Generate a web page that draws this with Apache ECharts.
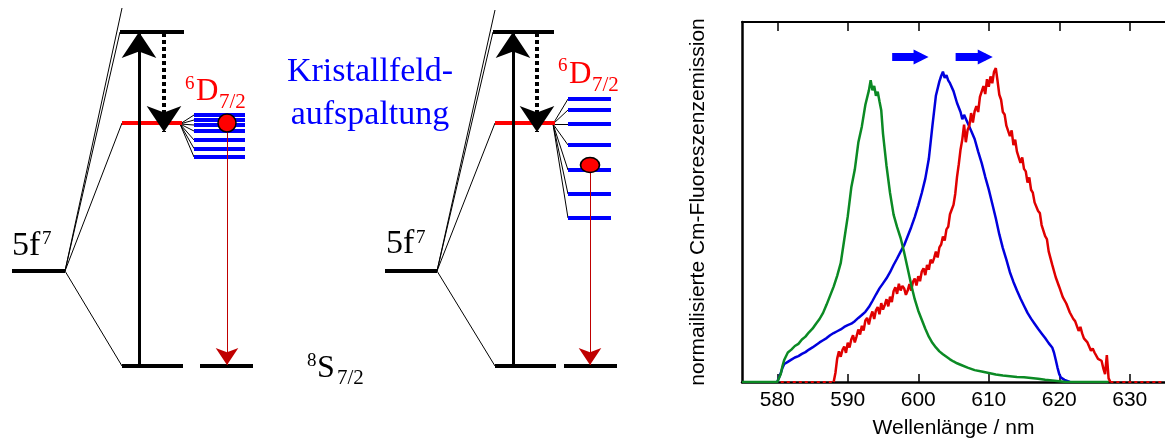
<!DOCTYPE html>
<html>
<head>
<meta charset="utf-8">
<title>Cm-Fluoreszenz</title>
<script src="https://cdn.jsdelivr.net/npm/echarts@6/dist/echarts.min.js"></script>
<style>
  html, body { margin: 0; padding: 0; background: #fff; }
  #chart { width: 1165px; height: 444px; }
</style>
</head>
<body>
<div id="chart"></div>
<script>
// ---------------- spectra (nm, normalised intensity 0..100) ----------------
var tickNm = [580, 590, 600, 610, 620, 630];

var greenNm = [575, 580, 580.25, 580.5, 580.75, 581, 581.5, 582, 582.5, 583, 583.5, 584, 584.5, 585, 585.5,
  586, 586.5, 587, 587.5, 588, 588.5, 589, 589.5, 590, 590.5, 591, 591.5, 592, 592.5, 593, 593.25, 593.5,
  593.75, 594, 594.25, 594.5, 594.75, 595, 595.25, 595.5, 596, 596.5, 597, 597.5, 598, 598.5, 599, 599.5,
  600, 600.5, 601, 601.5, 602, 602.5, 603, 603.5, 604, 604.5, 605, 605.5, 606, 607, 608, 609, 610, 611,
  612, 613, 614, 615, 616, 617, 618, 619, 620, 621, 627];
var greenVal = [0, 0, 0.5, 2.2, 4.5, 6.2, 8.2, 9.0, 10.0, 10.6, 11.8, 12.6, 13.8, 14.8, 16.2,
  17.5, 19.2, 21.5, 24.0, 26.5, 29.5, 33.0, 39.5, 46.0, 54.0, 59.0, 66.5, 71.0, 77.0, 81.0, 83.8, 81.0,
  82.2, 79.5, 80.6, 78.0, 75.5, 69.0, 64.5, 60.0, 52.5, 46.5, 43.0, 40.0, 36.0, 31.5, 27.0, 23.0,
  19.8, 17.3, 14.8, 12.6, 10.9, 9.6, 8.5, 7.7, 7.0, 6.3, 5.7, 5.2, 4.8, 4.0, 3.3, 2.9, 2.5, 2.1,
  1.8, 1.6, 1.4, 1.3, 1.1, 0.9, 0.6, 0.4, 0.2, 0, 0];

var blueNm = [580, 580.25, 580.5, 580.75, 581, 581.5, 582, 582.5, 583, 583.5, 584, 584.5, 585, 585.5, 586,
  586.5, 587, 587.5, 588, 588.5, 589, 589.5, 590, 590.5, 591, 591.5, 592, 592.5, 593, 593.5, 594, 594.5,
  595, 595.5, 596, 596.5, 597, 597.5, 598, 598.5, 599, 599.5, 600, 600.5, 601, 601.5, 602, 602.5, 603,
  603.25, 603.5, 603.75, 604, 604.25, 604.5, 605, 605.5, 606, 606.25, 606.5, 607, 607.5, 608, 608.5, 609,
  609.5, 610, 610.5, 611, 611.5, 612, 612.5, 613, 613.5, 614, 614.5, 615, 615.5, 616, 616.5, 617, 617.5,
  618, 618.5, 619, 619.25, 619.5, 619.75, 620, 620.25, 620.5, 620.75, 621, 621.5];
var blueVal = [0, 0.5, 2.5, 4.0, 5.0, 5.6, 6.2, 6.8, 7.2, 7.8, 8.3, 9.0, 9.6, 10.3, 11.0,
  11.6, 12.2, 13.0, 13.6, 14.1, 14.6, 15.3, 15.8, 16.2, 16.9, 17.8, 18.6, 19.5, 20.8, 22.5, 24.3, 26.0,
  27.4, 28.8, 30.5, 32.5, 34.3, 36.2, 38.0, 40.5, 43.0, 45.8, 49.0, 52.5, 56.5, 62.0, 71.0, 79.5, 83.5,
  85.0, 86.2, 84.5, 85.2, 83.8, 83.0, 80.8, 77.5, 75.0, 73.0, 74.2, 72.0, 69.8, 67.5, 64.0, 60.8,
  57.0, 53.5, 49.5, 45.5, 41.0, 37.2, 34.0, 30.5, 27.8, 25.4, 23.2, 21.2, 19.2, 17.6, 16.2, 14.8, 13.5,
  12.2, 10.8, 9.6, 8.2, 6.2, 4.0, 2.2, 1.2, 1.0, 0.6, 0.2, 0];

// red spectrum sampled every 0.25 nm from 588 nm
var redStart = 588, redStep = 0.25;
var redVal = [
  0, 2.5, 6.5, 8.5,  7.0, 8.9, 9.8, 8.1,  10.9, 9.6, 11.8, 13.0,  11.0, 12.7, 14.6, 13.2,
  15.6, 14.3, 17.1, 17.8,  16.0, 18.2, 19.6, 17.5,  19.9, 20.8, 18.8, 21.9,  20.1, 21.4, 23.0, 21.0,
  23.7, 22.2, 25.2, 26.3,  24.5, 27.3, 25.4, 26.7,  26.0, 24.2, 25.4, 27.2,  25.4, 27.8, 28.7, 26.8,
  29.4, 28.0, 30.7, 31.6,  29.7, 32.5, 31.2, 34.0,  33.0, 34.4, 36.2, 34.6,  37.4, 38.2, 40.4, 39.3,
  42.4, 43.1, 46.6, 47.9,  49.2, 52.3, 57.0, 60.5,  64.6, 67.4, 71.5, 66.6,  70.0, 71.2, 74.7, 72.1,
  75.2, 76.6, 75.0, 79.2,  79.4, 82.2, 80.0, 84.1,  82.0, 84.9, 83.0, 86.2,  87.2, 83.6, 79.8, 78.4,
  75.0, 74.3, 71.2, 71.6,  68.3, 69.9, 65.8, 67.3,  64.0, 63.6, 60.9, 62.4,  59.2, 58.5, 55.4, 56.8,
  53.4, 52.6, 49.9, 50.1,  47.5, 46.9, 43.6, 43.5,  40.5, 39.7, 36.3, 36.2,  32.6, 32.4, 29.1, 29.0,
  26.4, 26.3, 23.6, 24.0,  21.8, 22.1, 19.3, 19.4,  17.5, 16.9, 17.4, 14.2,  15.3, 13.5, 12.1, 12.3,
  11.0, 11.1, 8.7, 9.3,  8.2, 7.8, 6.4, 6.1,  5.9, 3.8, 2.2, 7.5,  1.0, 0];
// red signal lying on the baseline outside the band
var redBaseNm = [580.5, 588, 588, 627.25, 634.5];
var redBaseVal = [0, 0, '-', 0, 0];

// blue arrows marking the shift of the band
var shiftArrows = [[596.3, 600.4], [605.3, 609.5]];
var shiftLevel = 90.3;

// ---------------- level scheme (x in scheme units, E above ground state) ----------------
var E = { ground: 0, f7: 95, d72: 243, upper: 334 };
var schemeA = { f7: [12, 65], upper: [120, 184], top: 358, d72: [122, 182], ground: [[122, 183], [200, 253]],
  pumpX: 139, relaxX: 164, emitX: 227, subX: [194, 245], sub: [251, 246, 241, 235, 226, 217.5, 209], popE: 243 };
var schemeB = { f7: [385, 437], upper: [493, 554], top: 356, d72: [495, 555], ground: [[495, 556], [564, 617]],
  pumpX: 513, relaxX: 537, emitX: 590, subX: [568, 611], sub: [267, 256, 242, 221, 196, 172, 148], popE: 201 };
var schemes = [schemeA, schemeB];

function pairs(xs, ys) { return xs.map(function (x, i) { return [x, ys[i]]; }); }
function seg(x0, e0, x1, e1) { return { coords: [[x0, e0], [x1, e1]] }; }

var redData = redVal.map(function (v, i) { return [redStart + i * redStep, v]; });

var blackLevels = [], redLevels = [], blueLevels = [], thin = [], pump = [], relax = [], emit = [], dots = [];
schemes.forEach(function (s, k) {
  blackLevels.push(seg(s.f7[0], E.f7, s.f7[1], E.f7));
  blackLevels.push(seg(s.upper[0], E.upper, s.upper[1], E.upper));
  s.ground.forEach(function (g) { blackLevels.push(seg(g[0], E.ground, g[1], E.ground)); });
  redLevels.push(seg(s.d72[0], E.d72, s.d72[1], E.d72));
  s.sub.forEach(function (e) {
    blueLevels.push(seg(s.subX[0], e, s.subX[1], e));
    thin.push(seg(s.d72[1] - 2, E.d72 - 1, s.subX[0], e));
  });
  thin.push(seg(s.f7[1], E.f7, s.upper[0], E.upper));
  thin.push(seg(s.f7[1], E.f7, s.upper[0] + 2, s.top));
  thin.push(seg(s.f7[1], E.f7, s.d72[0], E.d72));
  thin.push(seg(s.f7[1], E.f7, s.ground[0][0], E.ground));
  pump.push(seg(s.pumpX, E.ground, s.pumpX, E.upper));
  relax.push(seg(s.relaxX, E.upper - 1, s.relaxX, E.d72 - 9));
  emit.push(seg(s.emitX, s.popE - 8, s.emitX, E.ground + 1));
  dots.push({ value: [s.emitX, s.popE], symbolSize: k === 0 ? [18, 18] : [19, 15] });
});

var serif = '"Liberation Serif", "Times New Roman", serif';
var sans = '"Liberation Sans", Arial, sans-serif';

function txt(str, x, y, size, color, align) {
  return {
    type: 'text', x: x, y: y, silent: true,
    style: { text: str, fill: color, fontSize: size, fontFamily: serif,
      align: align || 'left', verticalAlign: 'middle', textAlign: align || 'left', textVerticalAlign: 'middle' }
  };
}

var schemeLine = { type: 'lines', coordinateSystem: 'cartesian2d', xAxisIndex: 2, yAxisIndex: 1,
  silent: true, animation: false };
function lineSeries(data, style, extra) {
  return Object.assign({}, schemeLine, { data: data, lineStyle: Object.assign({ opacity: 1, curveness: 0 }, style) }, extra || {});
}

var chart = echarts.init(document.getElementById('chart'), null, { renderer: 'canvas' });
chart.setOption({
  animation: false,
  backgroundColor: '#ffffff',
  grid: [
    { left: 742, top: 22, width: 427, height: 361 },
    { left: 0, top: 0, width: 680, height: 444 }
  ],
  xAxis: [
    { type: 'value', gridIndex: 0, min: 575, max: 635, position: 'bottom',
      name: 'Wellenlänge / nm', nameLocation: 'middle', nameGap: 36,
      nameTextStyle: { fontSize: 21, fontFamily: sans, color: '#000' },
      axisLine: { onZero: false, lineStyle: { color: '#000', width: 2.5 } },
      axisTick: { inside: true, length: 8, customValues: tickNm, lineStyle: { color: '#000', width: 1.5 } },
      axisLabel: { customValues: tickNm, margin: 8, fontSize: 21, fontFamily: sans, color: '#000' },
      splitLine: { show: false } },
    { type: 'value', gridIndex: 0, min: 575, max: 635, position: 'top',
      axisLine: { onZero: false, lineStyle: { color: '#000', width: 2 } },
      axisTick: { inside: true, length: 9, customValues: tickNm, lineStyle: { color: '#000', width: 1.5 } },
      axisLabel: { show: false }, splitLine: { show: false } },
    { type: 'value', gridIndex: 1, min: 0, max: 680, show: false }
  ],
  yAxis: [
    { type: 'value', gridIndex: 0, min: 0, max: 100,
      name: 'normailisierte Cm-Fluoreszenzemission', nameLocation: 'middle', nameGap: 33, nameRotate: 90,
      nameTextStyle: { fontSize: 21, fontFamily: sans, color: '#000' },
      axisLine: { show: true, onZero: false, lineStyle: { color: '#000', width: 2.5 } },
      axisTick: { show: false }, axisLabel: { show: false }, splitLine: { show: false } },
    { type: 'value', gridIndex: 1, min: -78, max: 366, show: false }
  ],
  series: [
    { name: 'rot Basislinie', type: 'line', data: pairs(redBaseNm, redBaseVal), showSymbol: false, symbol: 'none',
      lineStyle: { color: '#e00000', width: 2, type: [3, 3] }, silent: true },
    { name: 'blau', type: 'line', data: pairs(blueNm, blueVal), showSymbol: false, symbol: 'none',
      lineStyle: { color: '#0000dd', width: 2.5 }, silent: true },
    { name: 'rot', type: 'line', data: redData, showSymbol: false, symbol: 'none',
      lineStyle: { color: '#e00000', width: 2.5 }, silent: true },
    { name: 'grün', type: 'line', data: pairs(greenNm, greenVal), showSymbol: false, symbol: 'none',
      lineStyle: { color: '#0b8a24', width: 2.5 }, silent: true },
    { type: 'lines', coordinateSystem: 'cartesian2d', xAxisIndex: 0, yAxisIndex: 0, silent: true,
      data: shiftArrows.map(function (a) { return { coords: [[a[0], shiftLevel], [a[1], shiftLevel]] }; }),
      symbol: ['none', 'triangle'], symbolSize: 15,
      lineStyle: { color: '#0000ff', width: 8, opacity: 1 }, itemStyle: { color: '#0000ff' } },

    lineSeries(thin, { color: '#000', width: 1 }),
    lineSeries(blackLevels, { color: '#000', width: 4 }),
    lineSeries(redLevels, { color: '#ff0000', width: 4 }),
    lineSeries(blueLevels, { color: '#0000ff', width: 4 }),
    lineSeries(pump, { color: '#000', width: 3 }, { symbol: ['none', 'arrow'], symbolSize: 26 }),
    lineSeries(relax, { color: '#000', width: 4, type: [4, 3] }, { symbol: ['none', 'arrow'], symbolSize: 26 }),
    lineSeries(emit, { color: '#c00000', width: 1 }, { symbol: ['none', 'arrow'], symbolSize: 17 }),
    { type: 'scatter', xAxisIndex: 2, yAxisIndex: 1, silent: true, z: 5,
      symbol: 'path://M0 0A10 10 0 1 0 20 0A10 10 0 1 0 0 0Z', data: dots,
      itemStyle: { color: '#ff0000', borderColor: '#000', borderWidth: 1.5, opacity: 1 } }
  ],
  graphic: [
    txt('5f', 12, 246, 34, '#000'), txt('7', 42, 239, 19, '#000'),
    txt('5f', 386, 244, 34, '#000'), txt('7', 416, 238, 19, '#000'),
    txt('6', 185, 84, 19, '#ff0000'), txt('D', 196, 92, 31, '#ff0000'), txt('7/2', 219, 102, 21, '#ff0000'),
    txt('6', 558, 66, 19, '#ff0000'), txt('D', 569, 75, 31, '#ff0000'), txt('7/2', 592, 85, 21, '#ff0000'),
    txt('Kristallfeld-', 370, 72, 34, '#0000ff', 'center'),
    txt('aufspaltung', 370, 115, 34, '#0000ff', 'center'),
    txt('8', 307, 361, 19, '#000'), txt('S', 317, 369, 32, '#000'), txt('7/2', 337, 378, 21, '#000')
  ]
});
</script>
</body>
</html>
